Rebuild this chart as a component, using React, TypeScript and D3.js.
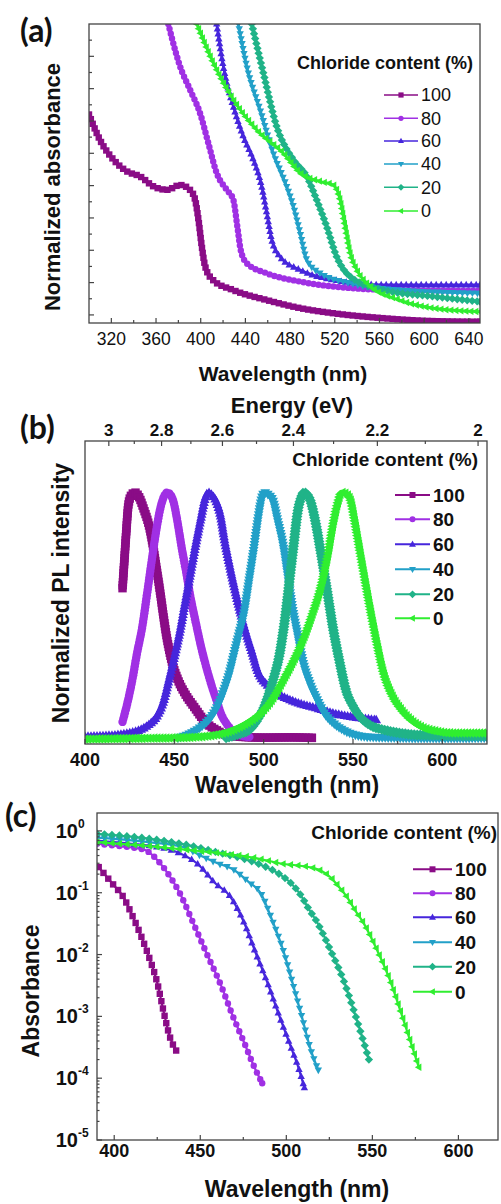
import React, { useEffect, useRef } from 'react';
import * as d3 from 'd3';

type Pt = [number, number];

const FONT = "'Liberation Sans', Arial, Helvetica, sans-serif";

// legend / series
const chlorideLabels = ['100', '80', '60', '40', '20', '0'];
const seriesColors = ['#8A0C86', '#A030E4', '#4626DC', '#22A0C8', '#20B388', '#30EE30'];
const markerShapes = ['square', 'circle', 'up', 'down', 'diamond', 'left'];

// (a) normalized absorbance vs wavelength (nm)
const absA100: Pt[] = [[300, 0.62], [310, 0.54], [322, 0.48], [334, 0.444], [346, 0.428], [358, 0.397], [370, 0.387], [381.5, 0.402], [390.4, 0.387], [395, 0.356], [398, 0.294], [401, 0.211], [404, 0.15], [411, 0.108], [429, 0.077], [459, 0.046], [489, 0.021], [519, 0.005], [563, -0.01], [608, -0.019], [650, -0.021]];
const absA80: Pt[] = [[371, 0.9], [381.5, 0.769], [390.4, 0.697], [399.4, 0.624], [406.8, 0.532], [414.3, 0.439], [423.3, 0.387], [429.2, 0.356], [432.8, 0.273], [435.8, 0.201], [441.2, 0.16], [459, 0.129], [489, 0.103], [534, 0.083], [578, 0.077], [650, 0.075]];
const absA60: Pt[] = [[414.3, 0.9], [420.2, 0.769], [429.2, 0.645], [438.1, 0.552], [447.1, 0.48], [454.6, 0.397], [459.1, 0.315], [463.6, 0.232], [471, 0.18], [489, 0.139], [519, 0.108], [563, 0.093], [650, 0.093]];
const absA40: Pt[] = [[433.7, 0.9], [441.2, 0.769], [453.1, 0.635], [465, 0.5], [477, 0.397], [483, 0.335], [489, 0.253], [495, 0.17], [507, 0.129], [534, 0.098], [578, 0.077], [650, 0.067]];
const absA20: Pt[] = [[445.7, 0.9], [456.1, 0.748], [468, 0.583], [483, 0.48], [495, 0.428], [503.8, 0.356], [512.8, 0.273], [521.7, 0.18], [533.7, 0.119], [563.5, 0.077], [608, 0.057], [650, 0.041]];
const absA0: Pt[] = [[396.4, 0.9], [411.3, 0.779], [429.2, 0.666], [450, 0.573], [474, 0.5], [489, 0.439], [507, 0.413], [518.7, 0.402], [524.7, 0.356], [529.2, 0.273], [533.7, 0.191], [539.7, 0.139], [548.6, 0.098], [578, 0.046], [608, 0.021], [650, 0.01]];
const absA = [absA100, absA80, absA60, absA40, absA20, absA0];
const ticksA = [320, 360, 400, 440, 480, 520, 560, 600, 640];

// (b) normalized PL intensity
const plB100: Pt[] = [[421, 0.61], [422, 0.72], [423, 0.83], [424.3, 0.95], [426, 0.99], [428, 1.0], [430, 0.985], [433, 0.93], [436, 0.86], [441, 0.645], [446, 0.4], [449, 0.3], [452, 0.237], [456, 0.18], [461, 0.127], [468, 0.06], [474, 0.03], [479, 0.012], [490, 0.003], [500, 0.001], [515, 0.002], [527, 0.0]];
const plB80: Pt[] = [[421, 0.065], [424, 0.15], [426.6, 0.24], [429, 0.34], [432, 0.45], [435, 0.6], [438, 0.755], [440, 0.85], [442, 0.93], [444, 0.98], [446, 1.0], [448, 0.99], [449.6, 0.96], [452, 0.87], [454, 0.78], [456.5, 0.68], [459, 0.575], [462, 0.47], [465, 0.37], [468, 0.285], [471, 0.21], [474, 0.145], [476, 0.1], [479, 0.06], [483, 0.025], [487, 0.01], [492, 0.004]];
const plB60: Pt[] = [[400, 0.005], [410, 0.008], [418, 0.012], [425, 0.02], [431, 0.033], [436, 0.055], [440, 0.085], [444, 0.15], [447, 0.237], [450, 0.33], [453, 0.43], [456, 0.55], [459, 0.67], [462, 0.79], [465, 0.9], [467, 0.97], [469, 1.0], [471, 0.99], [473, 0.97], [476, 0.9], [478, 0.81], [481, 0.7], [484, 0.6], [487, 0.51], [490, 0.43], [493, 0.36], [497, 0.265], [502, 0.215], [507.5, 0.18], [513, 0.16], [520, 0.14], [530, 0.12], [539, 0.1], [550, 0.085], [563, 0.073]];
const plB40: Pt[] = [[452, 0.0], [458, 0.015], [465, 0.045], [470, 0.08], [474, 0.127], [478, 0.2], [481, 0.27], [483, 0.33], [486, 0.42], [489, 0.51], [492, 0.65], [494.7, 0.78], [497, 0.9], [499, 0.98], [500.5, 1.0], [502, 0.995], [505, 0.97], [508, 0.88], [511, 0.78], [513.5, 0.66], [516, 0.535], [519, 0.42], [522, 0.31], [526, 0.22], [530, 0.155], [534, 0.1], [539, 0.06], [545, 0.03], [550, 0.015], [558, 0.004], [575, 0.0], [600, -0.002], [625, 0.0]];
const plB20: Pt[] = [[479, 0.0], [486, 0.015], [492, 0.033], [497, 0.08], [501, 0.14], [505, 0.23], [509, 0.345], [512, 0.49], [514.5, 0.645], [517, 0.8], [519, 0.92], [521, 0.98], [522.5, 1.0], [524, 0.995], [526, 0.97], [529, 0.88], [532, 0.755], [535.5, 0.6], [539, 0.44], [542.5, 0.31], [546, 0.196], [550, 0.13], [554, 0.086], [560, 0.05], [567, 0.033], [576, 0.02], [586, 0.012], [600, 0.01], [625, 0.008]];
const plB0: Pt[] = [[400, -0.005], [430, -0.002], [450, 0.0], [465, 0.005], [475, 0.015], [483, 0.033], [490, 0.058], [498, 0.1], [505, 0.16], [511, 0.237], [517, 0.32], [522, 0.4], [527, 0.5], [532, 0.617], [536, 0.75], [539, 0.878], [541.5, 0.96], [543.5, 1.0], [546, 0.995], [548.5, 0.97], [551, 0.88], [554, 0.755], [557, 0.63], [560, 0.51], [563.5, 0.38], [567, 0.265], [572, 0.17], [577, 0.114], [582, 0.075], [588, 0.045], [596, 0.028], [605, 0.02], [615, 0.02], [625, 0.02]];
const plB = [plB100, plB80, plB60, plB40, plB20, plB0];
const ticksB = [400, 450, 500, 550, 600];
const energyTicks = [3, 2.8, 2.6, 2.4, 2.2, 2];
const energyMinor = [2.9, 2.7, 2.5, 2.3, 2.1];

// (c) absorbance (log)
const absC100: Pt[] = [[391, 0.26], [395, 0.19], [400, 0.13], [405, 0.088], [410, 0.046], [415, 0.022], [420, 0.0095], [425, 0.0035], [429, 0.0011], [432, 0.0005], [436, 0.00028]];
const absC80: Pt[] = [[390, 0.62], [400, 0.58], [410, 0.54], [418, 0.49], [425, 0.34], [432, 0.19], [438, 0.1], [446, 0.032], [454, 0.01], [462, 0.0032], [469, 0.001], [476, 0.00035], [481, 0.00016], [486, 0.000083]];
const absC60: Pt[] = [[390, 0.7], [410, 0.62], [425, 0.55], [436, 0.46], [448, 0.3], [459, 0.14], [467, 0.09], [475, 0.035], [482, 0.011], [489, 0.0035], [496, 0.001], [503, 0.0003], [507, 0.00015], [510.5, 0.00007]];
const absC40: Pt[] = [[390, 0.78], [420, 0.66], [440, 0.55], [450, 0.4], [460, 0.3], [469, 0.24], [478, 0.15], [485, 0.1], [492, 0.035], [499, 0.01], [504, 0.0032], [509, 0.001], [514, 0.0003], [518.6, 0.000135]];
const absC20: Pt[] = [[390, 0.9], [420, 0.75], [444, 0.58], [460, 0.45], [483, 0.3], [496, 0.2], [503, 0.14], [508, 0.095], [513, 0.055], [518, 0.033], [525.5, 0.012], [533, 0.004], [539, 0.0013], [544, 0.00047], [548, 0.0002]];
const absC0: Pt[] = [[390, 0.66], [420, 0.57], [444, 0.49], [460, 0.44], [483, 0.36], [496, 0.3], [516, 0.25], [521, 0.22], [525.5, 0.18], [530, 0.13], [535, 0.087], [540, 0.052], [545, 0.032], [552.6, 0.012], [560, 0.004], [566, 0.0013], [572, 0.0004], [577, 0.00015]];
const absC = [absC100, absC80, absC60, absC40, absC20, absC0];
const ticksC = [400, 450, 500, 550, 600];
const decadesC = [-5, -4, -3, -2, -1, 0];

function shapePath(shape: string, r: number): string {
  switch (shape) {
    case 'square': return `M${-r},${-r}H${r}V${r}H${-r}Z`;
    case 'circle': return `M${r},0A${r},${r} 0 1,1 ${-r},0A${r},${r} 0 1,1 ${r},0Z`;
    case 'up': return `M0,${-1.25 * r}L${1.15 * r},${0.8 * r}L${-1.15 * r},${0.8 * r}Z`;
    case 'down': return `M0,${1.25 * r}L${1.15 * r},${-0.8 * r}L${-1.15 * r},${-0.8 * r}Z`;
    case 'diamond': return `M0,${-1.3 * r}L${1.3 * r},0L0,${1.3 * r}L${-1.3 * r},0Z`;
    default: return `M${-1.25 * r},0L${0.8 * r},${-1.15 * r}L${0.8 * r},${1.15 * r}Z`;
  }
}

function addText(g: any, x: number, y: number, str: string, size: number, opts: any = {}) {
  const t = g.append('text')
    .attr('x', x).attr('y', y)
    .attr('font-family', opts.family || FONT)
    .attr('font-size', size)
    .attr('font-weight', opts.weight || 'bold')
    .attr('text-anchor', opts.anchor || 'middle')
    .attr('fill', '#111')
    .text(str);
  if (opts.rotate) t.attr('transform', `rotate(-90,${x},${y})`);
  return t;
}

function drawSeries(g: any, data: Pt[], x: any, y: any, color: string, shape: string, lw: number, r: number, step: number) {
  const line = d3.line<Pt>().x(d => x(d[0])).y(d => y(d[1])).curve(d3.curveMonotoneX);
  const path = g.append('path')
    .attr('d', line(data))
    .attr('fill', 'none')
    .attr('stroke', color)
    .attr('stroke-width', lw)
    .attr('stroke-linejoin', 'round');
  // markers are spread along the drawn curve, like the dense symbols of the original plot
  const node = path.node() as SVGPathElement;
  const len = node.getTotalLength();
  const pts: DOMPoint[] = [];
  for (let l = 0; l < len; l += step) pts.push(node.getPointAtLength(l));
  pts.push(node.getPointAtLength(len));
  g.selectAll(null).data(pts).enter().append('path')
    .attr('d', shapePath(shape, r))
    .attr('transform', (p: DOMPoint) => `translate(${p.x},${p.y})`)
    .attr('fill', color);
}

function drawLegend(g: any, title: string, titleX: number, titleY: number, titleSize: number,
  x0: number, x1: number, rows: number[], labelSize: number, weight: string, lw: number, r: number) {
  addText(g, titleX, titleY, title, titleSize, { anchor: 'end' });
  chlorideLabels.forEach((lab, i) => {
    const yy = rows[i];
    g.append('line').attr('x1', x0).attr('x2', x1).attr('y1', yy).attr('y2', yy)
      .attr('stroke', seriesColors[i]).attr('stroke-width', lw);
    g.append('path').attr('d', shapePath(markerShapes[i], r))
      .attr('transform', `translate(${(x0 + x1) / 2},${yy})`).attr('fill', seriesColors[i]);
    addText(g, x1 + 3, yy + labelSize * 0.36, lab, labelSize, { anchor: 'start', weight });
  });
}

function frame(g: any, x0: number, y0: number, x1: number, y1: number) {
  g.append('rect').attr('x', x0).attr('y', y0).attr('width', x1 - x0).attr('height', y1 - y0)
    .attr('fill', 'none').attr('stroke', '#444').attr('stroke-width', 1.3);
}

function vTicks(g: any, xs: number[], yBase: number, len: number) {
  xs.forEach(px => g.append('line').attr('x1', px).attr('x2', px).attr('y1', yBase).attr('y2', yBase + len)
    .attr('stroke', '#444').attr('stroke-width', 1.2));
}

function hTicks(g: any, ys: number[], xBase: number, len: number) {
  ys.forEach(py => g.append('line').attr('x1', xBase).attr('x2', xBase + len).attr('y1', py).attr('y2', py)
    .attr('stroke', '#444').attr('stroke-width', 1.2));
}

function clip(svg: any, id: string, x0: number, y0: number, x1: number, y1: number) {
  svg.append('clipPath').attr('id', id).append('rect')
    .attr('x', x0).attr('y', y0).attr('width', x1 - x0).attr('height', y1 - y0);
  return svg.append('g').attr('clip-path', `url(#${id})`);
}

export default function App() {
  const ref = useRef<SVGSVGElement>(null);

  useEffect(() => {
    const svg = d3.select(ref.current);
    svg.selectAll('*').remove();
    svg.append('rect').attr('width', 501).attr('height', 1204).attr('fill', '#fff');

    // ---------- (a) ----------
    const xa = d3.scaleLinear().domain([300, 650]).range([89, 480]);
    const ya = d3.scaleLinear().domain([-0.025, 0.9]).range([323, 24]);
    const ga = clip(svg, 'clipA', 89, 24, 480, 323);
    absA.forEach((d, i) => drawSeries(ga, d, xa, ya, seriesColors[i], markerShapes[i], 2.6, 3.2, 5));
    frame(svg, 89, 24, 480, 323);
    vTicks(svg, ticksA.map(v => xa(v)), 323, -5);
    vTicks(svg, d3.range(340, 650, 40).map(v => xa(v)), 323, -3);
    hTicks(svg, d3.range(0, 0.81, 0.1).map(v => ya(v)), 89, 5);
    hTicks(svg, d3.range(0.05, 0.9, 0.1).map(v => ya(v)), 89, 3);
    ticksA.forEach(v => addText(svg, xa(v), 345, String(v), 17.5, { weight: 'normal' }));
    addText(svg, 283, 381, 'Wavelength (nm)', 21);
    addText(svg, 60, 187, 'Normalized absorbance', 22, { rotate: true });
    addText(svg, 20, 42, '(a)', 32, { anchor: 'start', family: "Lato, 'Open Sans', sans-serif" });
    drawLegend(svg, 'Chloride content (%)', 473, 69, 18, 384, 418, [95, 118.3, 141, 164, 187.3, 211], 18, 'normal', 1.6, 2.6);

    // ---------- (b) ----------
    const xb = d3.scaleLinear().domain([400, 625]).range([85, 487]);
    const yb = d3.scaleLinear().domain([-0.025, 1.21]).range([744, 441]);
    const gb = clip(svg, 'clipB', 85, 441, 487, 744);
    plB.forEach((d, i) => drawSeries(gb, d, xb, yb, seriesColors[i], markerShapes[i], 5.5, 4.2, 3));
    frame(svg, 85, 441, 487, 744);
    vTicks(svg, ticksB.map(v => xb(v)), 744, -5);
    vTicks(svg, [425, 475, 525, 575].map(v => xb(v)), 744, -3);
    vTicks(svg, energyTicks.map(e => xb(1240 / e)), 441, 5);
    vTicks(svg, energyMinor.map(e => xb(1240 / e)), 441, 3);
    ticksB.forEach(v => addText(svg, xb(v), 766, String(v), 18));
    energyTicks.forEach(e => addText(svg, xb(1240 / e), 436, String(e), 17));
    addText(svg, 292, 413, 'Energy (eV)', 22);
    addText(svg, 287, 793, 'Wavelength (nm)', 23);
    addText(svg, 69, 593, 'Normalized PL intensity', 23, { rotate: true });
    addText(svg, 20, 439, '(b)', 32, { anchor: 'start', family: "Lato, 'Open Sans', sans-serif" });
    drawLegend(svg, 'Chloride content (%)', 478, 466, 19, 395, 430, [495, 519.3, 544.3, 569.3, 594.3, 618.3], 19, 'bold', 2, 3);

    // ---------- (c) ----------
    const xc = d3.scaleLinear().domain([390, 623]).range([97, 498]);
    const yc = d3.scaleLog().domain([1e-5, Math.pow(10, 0.29)]).range([1140, 813]);
    const gc = clip(svg, 'clipC', 97, 813, 498, 1140);
    absC.forEach((d, i) => drawSeries(gc, d, xc, yc, seriesColors[i], markerShapes[i], 2.2, 3.2, 7.5));
    frame(svg, 97, 813, 498, 1140);
    vTicks(svg, ticksC.map(v => xc(v)), 1140, -5);
    vTicks(svg, [425, 475, 525, 575].map(v => xc(v)), 1140, -3);
    hTicks(svg, decadesC.map(p => yc(Math.pow(10, p))), 97, 5);
    const minors: number[] = [];
    decadesC.slice(0, 5).forEach(p => d3.range(2, 10).forEach(m => minors.push(yc(m * Math.pow(10, p)))));
    hTicks(svg, minors, 97, 2.5);
    ticksC.forEach(v => addText(svg, xc(v), 1157, String(v), 18));
    decadesC.forEach(p => {
      const py = yc(Math.pow(10, p));
      addText(svg, 78, py + 7, '10', 20, { anchor: 'end' });
      addText(svg, 78, py - 3, String(p), 12, { anchor: 'start' });
    });
    addText(svg, 297, 1197, 'Wavelength (nm)', 23);
    addText(svg, 39, 991, 'Absorbance', 23, { rotate: true });
    addText(svg, 5, 827, '(c)', 32, { anchor: 'start', family: "Lato, 'Open Sans', sans-serif" });
    drawLegend(svg, 'Chloride content (%)', 497, 839, 19, 413, 452, [869.3, 893.3, 917.3, 942.3, 966.7, 991.7], 19, 'bold', 2, 3);
  }, []);

  return (
    <svg ref={ref} width={501} height={1204}
      style={{ position: 'absolute', left: 0, top: 0, display: 'block' }} />
  );
}
